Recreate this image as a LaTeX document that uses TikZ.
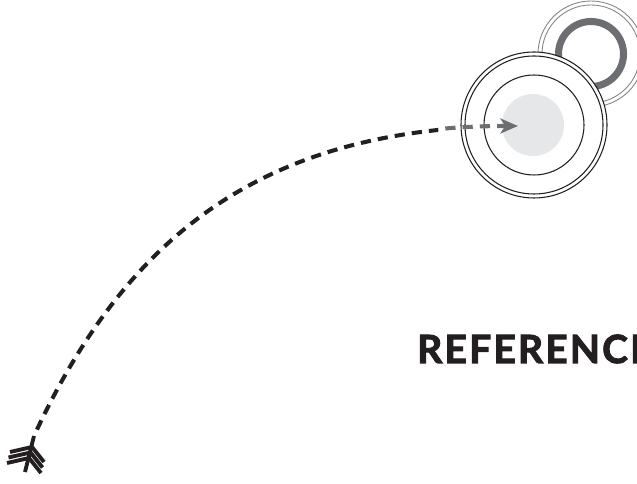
\documentclass[tikz,border=0pt]{standalone}
\usepackage{fontspec}
\setsansfont{Lato}
\newfontfamily\capfont[LetterSpace=6,FakeBold=2.6]{Lato Bold}
\usetikzlibrary{arrows.meta,positioning}
\definecolor{inkdark}{HTML}{231F20}
\definecolor{inkgray}{HTML}{6D6E71}
\definecolor{discgray}{HTML}{E6E7E8}
\newcommand{\pxlen}{0.5674pt}
\tikzset{
  ring/.style    ={circle,draw=inkdark,inner sep=0pt,line width=0.6pt},
  thinring/.style={circle,draw=inkgray!85,inner sep=0pt,line width=0.5pt},
  thickring/.style={circle,draw=inkgray,inner sep=0pt,line width=4pt},
  disc/.style    ={circle,fill=discgray,inner sep=0pt},
  flight/.style  ={inkdark,line width=2.3pt,dash pattern=on 5.8pt off 4pt,dash phase=5.8pt},
  feather/.style ={inkdark,line width=2.2pt},
  reftext/.style ={font=\capfont\fontsize{22}{24}\selectfont,text=inkdark,
                   anchor=base west,inner sep=0pt},
}

\begin{document}
\begin{tikzpicture}[x=0.5674pt,y=-0.5674pt]
  \useasboundingbox (0,0) rectangle (637,484);
  \clip (0,0) rectangle (637,484);
  % grey target behind
  \coordinate (spare) at (591,54);
  \foreach \name/\r in {spareA/53,spareB/49}{
     \node[thinring,minimum size={2*\r*\pxlen}] (\name) at (spare) {};
  }
  \node[thickring,minimum size={2*32.5*\pxlen}] (spareC) at (spare) {};
  % main target
  \coordinate (bull) at (534,125);
  \node[ring,fill=white,minimum size={2*73*\pxlen}] (outer) at (bull) {};
  \foreach \name/\r in {middle/69,inner/50}{
     \node[ring,minimum size={2*\r*\pxlen}] (\name) at (bull) {};
  }
  \node[disc,minimum size={2*31*\pxlen}] (centre) at (533,125) {};
  % arrow
  \coordinate (nock) at (34,436);
  \coordinate (tailend) at (25,472);
  \coordinate (aim) at (518,126);
  \begin{scope}
    \clip (0,0) rectangle (438,484);
    \draw[flight] (nock) .. controls (128,232) and (268,126) .. (aim);
  \end{scope}
  \begin{scope}
    \clip (438,0) rectangle (637,484);
    \draw[flight,inkgray,-{Stealth[length=10pt,width=8.5pt,inset=2.8pt]}]
      (nock) .. controls (128,232) and (268,126) .. (aim);
  \end{scope}
  % fletching
  \draw[feather] (nock) -- (tailend);
  \foreach \ax/\ay in {32/447,30.5/452.5,29/458}{
     \draw[feather] ({\ax-22},{\ay+5}) -- (\ax,\ay) -- ({\ax+12},{\ay+15});
  }
  \node[reftext] (caption) at (417,363) {REFERENCE};
\end{tikzpicture}
\end{document}
